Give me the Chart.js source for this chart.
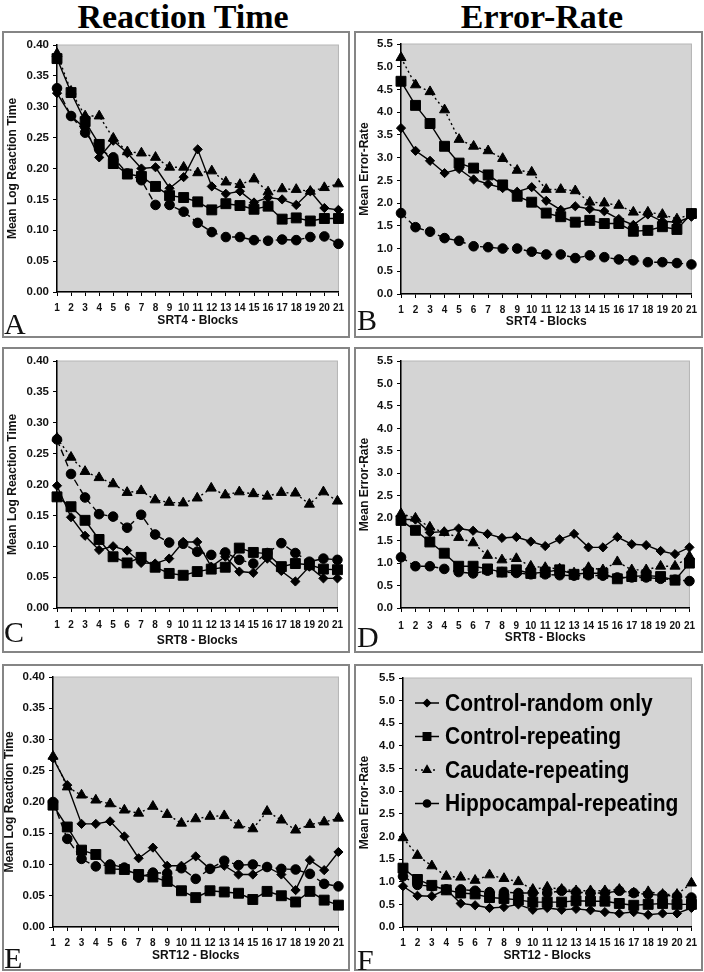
<!DOCTYPE html>
<html lang="en">
<head>
<meta charset="UTF-8">
<title>SRT Reaction Time and Error-Rate</title>
<script src="https://cdn.jsdelivr.net/npm/chart.js"></script>
<style>
  body { margin: 0; width: 704px; height: 972px; position: relative; overflow: hidden; background: #fff; }
  .head { position: absolute; top: -2px; width: 300px; text-align: center; line-height: 34px;
          font: bold 34px "Liberation Serif", "Times New Roman", serif; color: #000; }
  .frame { position: absolute; box-sizing: border-box; border: 2px solid #858585; pointer-events: none; }
  .letter { position: absolute; line-height: 30px; font: 30px "Liberation Serif", "Times New Roman", serif; color: #111; }
  canvas { position: absolute; }
</style>
</head>
<body>
<div class="head" style="left:33px">Reaction Time</div>
<div class="head" style="left:392px">Error-Rate</div>

<script>
// x categories (blocks)
const blocks = ['1','2','3','4','5','6','7','8','9','10','11','12','13','14','15','16','17','18','19','20','21'];
const seriesNames = ['Control-random only', 'Control-repeating', 'Caudate-repeating', 'Hippocampal-repeating'];

// A - SRT4 reaction time
const rtA_random  = [0.322,0.285,0.265,0.218,0.245,0.225,0.200,0.202,0.168,0.186,0.231,0.171,0.159,0.163,0.145,0.153,0.150,0.141,0.163,0.136,0.133];
const rtA_ctrlRep = [0.378,0.323,0.276,0.239,0.208,0.191,0.187,0.171,0.156,0.153,0.146,0.133,0.143,0.140,0.134,0.139,0.118,0.120,0.115,0.119,0.119];
const rtA_caudate = [0.386,0.325,0.285,0.285,0.249,0.227,0.225,0.218,0.202,0.202,0.193,0.196,0.178,0.174,0.183,0.162,0.167,0.166,0.163,0.169,0.175];
const rtA_hippo   = [0.330,0.285,0.258,0.231,0.218,0.192,0.181,0.141,0.141,0.130,0.112,0.097,0.089,0.089,0.084,0.083,0.085,0.084,0.089,0.090,0.078];

// B - SRT4 error rate
const erB_random  = [3.65,3.15,2.93,2.66,2.75,2.52,2.42,2.33,2.25,2.35,2.05,1.85,1.93,1.87,1.82,1.65,1.52,1.75,1.60,1.58,1.70];
const erB_ctrlRep = [4.68,4.15,3.75,3.25,2.88,2.77,2.62,2.40,2.15,2.02,1.78,1.70,1.58,1.62,1.55,1.55,1.38,1.40,1.48,1.42,1.77];
const erB_caudate = [5.20,4.60,4.45,4.05,3.40,3.25,3.15,2.98,2.72,2.68,2.30,2.30,2.27,2.02,2.00,1.95,1.80,1.80,1.75,1.65,1.76];
const erB_hippo   = [1.78,1.47,1.37,1.23,1.17,1.05,1.03,1.00,1.00,0.93,0.87,0.87,0.79,0.85,0.81,0.76,0.74,0.70,0.70,0.68,0.65];

// C - SRT8 reaction time
const rtC_random  = [0.198,0.147,0.117,0.094,0.100,0.093,0.073,0.072,0.080,0.107,0.107,0.067,0.083,0.059,0.057,0.080,0.060,0.043,0.067,0.048,0.048];
const rtC_ctrlRep = [0.180,0.164,0.142,0.111,0.083,0.073,0.082,0.066,0.056,0.053,0.059,0.063,0.066,0.097,0.090,0.088,0.067,0.072,0.070,0.063,0.062];
const rtC_caudate = [0.275,0.244,0.221,0.211,0.201,0.187,0.190,0.175,0.171,0.170,0.178,0.194,0.183,0.188,0.185,0.181,0.187,0.186,0.168,0.188,0.173];
const rtC_hippo   = [0.273,0.217,0.179,0.152,0.148,0.130,0.151,0.119,0.106,0.104,0.091,0.086,0.090,0.078,0.072,0.089,0.105,0.089,0.075,0.080,0.078];

// D - SRT8 error rate
const erD_random  = [1.97,1.97,1.68,1.70,1.77,1.72,1.65,1.56,1.58,1.48,1.38,1.53,1.65,1.35,1.35,1.58,1.42,1.40,1.27,1.20,1.35];
const erD_ctrlRep = [1.95,1.73,1.47,1.22,0.93,0.93,0.87,0.80,0.85,0.77,0.80,0.85,0.75,0.78,0.77,0.65,0.70,0.72,0.70,0.62,1.00];
const erD_caudate = [2.10,2.00,1.80,1.68,1.57,1.45,1.17,1.07,1.10,0.93,0.90,0.87,0.78,0.90,0.85,1.03,0.85,0.85,0.93,0.93,1.15];
const erD_hippo   = [1.13,0.93,0.93,0.87,0.80,0.77,0.83,0.80,0.78,0.75,0.75,0.73,0.72,0.73,0.72,0.68,0.68,0.68,0.65,0.63,0.60];

// E - SRT12 reaction time
const rtE_random  = [0.270,0.227,0.165,0.165,0.169,0.145,0.110,0.127,0.098,0.098,0.113,0.093,0.098,0.084,0.084,0.096,0.084,0.059,0.107,0.091,0.120];
const rtE_ctrlRep = [0.195,0.160,0.123,0.116,0.093,0.092,0.084,0.080,0.073,0.058,0.047,0.058,0.056,0.054,0.044,0.057,0.050,0.040,0.057,0.043,0.035];
const rtE_caudate = [0.273,0.224,0.211,0.203,0.197,0.187,0.182,0.193,0.180,0.166,0.173,0.177,0.178,0.163,0.157,0.185,0.171,0.155,0.164,0.168,0.174];
const rtE_hippo   = [0.200,0.141,0.109,0.097,0.100,0.095,0.079,0.087,0.086,0.094,0.077,0.093,0.106,0.099,0.100,0.096,0.093,0.092,0.085,0.069,0.065];

// F - SRT12 error rate
const erF_random  = [0.90,0.69,0.68,0.83,0.52,0.48,0.42,0.44,0.50,0.38,0.42,0.38,0.40,0.37,0.33,0.30,0.33,0.27,0.30,0.30,0.42];
const erF_ctrlRep = [1.30,1.05,0.92,0.82,0.75,0.73,0.65,0.63,0.60,0.55,0.55,0.55,0.58,0.57,0.57,0.52,0.48,0.50,0.52,0.50,0.50];
const erF_caudate = [1.97,1.58,1.35,1.12,1.10,1.03,1.15,1.07,1.00,0.83,0.88,0.83,0.80,0.80,0.80,0.83,0.75,0.78,0.72,0.72,0.97];
const erF_hippo   = [1.12,0.93,0.90,0.83,0.83,0.80,0.77,0.77,0.75,0.75,0.75,0.80,0.77,0.75,0.75,0.80,0.75,0.72,0.70,0.68,0.65];

// marker / line look per series
const looks = [
  { pointStyle: 'rectRot',  pointRadius: 4.6, dash: [],     legendDash: [] },
  { pointStyle: 'rect',     pointRadius: 7,   dash: [],     legendDash: [] },
  { pointStyle: 'triangle', pointRadius: 5.8, dash: [2, 3], legendDash: [2, 4] },
  { pointStyle: 'circle',   pointRadius: 4.8, dash: [7, 4], legendDash: [] }
];

const SANS = '"Liberation Sans", Arial, sans-serif';

const plotBg = {
  id: 'plotBg',
  beforeDraw(chart) {
    const { ctx, chartArea: a } = chart;
    ctx.save();
    ctx.fillStyle = '#d4d4d4';
    ctx.fillRect(a.left, a.top, a.right - a.left, a.bottom - a.top);
    ctx.strokeStyle = '#b5b5b5';
    ctx.lineWidth = 1;
    ctx.strokeRect(a.left, a.top, a.right - a.left, a.bottom - a.top);
    ctx.restore();
  }
};

// legend drawn inside panel F
const legendInside = {
  id: 'legendInside',
  afterDatasetsDraw(chart, args, opts) {
    if (!opts.show) return;
    const ctx = chart.ctx;
    ctx.save();
    chart.data.datasets.forEach((ds, i) => {
      const y = opts.y0 + i * opts.step;
      ctx.strokeStyle = '#000';
      ctx.lineWidth = 1.5;
      ctx.setLineDash(looks[i].legendDash);
      ctx.beginPath();
      ctx.moveTo(opts.x0, y);
      ctx.lineTo(opts.x0 + 24, y);
      ctx.stroke();
      ctx.setLineDash([]);
      ctx.fillStyle = '#000';
      Chart.helpers.drawPoint(ctx, { pointStyle: looks[i].pointStyle, radius: looks[i].pointRadius * 0.75, borderWidth: 1 }, opts.x0 + 12, y);
      ctx.fill();
      // the scanned legend text is a little taller than wide
      ctx.save();
      ctx.translate(opts.x0 + 30, y + 1);
      ctx.scale(1, 1.18);
      ctx.font = 'bold 21px ' + SANS;
      ctx.textBaseline = 'middle';
      ctx.textAlign = 'left';
      ctx.fillText(seriesNames[i], 0, 0);
      ctx.restore();
    });
    ctx.restore();
  }
};

const panels = [
  { letter: 'A', frame: [2, 31, 348, 307], area: [57, 45, 343, 292], yTitleX: 13, xLabelY: 308, xTitleY: 321,
    ymax: 0.40, step: 0.05, dec: 2, yTitle: 'Mean Log Reaction Time', xTitle: 'SRT4 - Blocks',
    letterPos: [4, 307], series: [rtA_random, rtA_ctrlRep, rtA_caudate, rtA_hippo] },
  { letter: 'B', frame: [354, 31, 349, 307], area: [401, 44, 693, 294], yTitleX: 365, xLabelY: 310, xTitleY: 322,
    ymax: 5.5, step: 0.5, dec: 1, yTitle: 'Mean Error-Rate', xTitle: 'SRT4 - Blocks',
    letterPos: [357, 303], series: [erB_random, erB_ctrlRep, erB_caudate, erB_hippo] },
  { letter: 'C', frame: [2, 347, 348, 306], area: [57, 361, 342, 608], yTitleX: 13, xLabelY: 625, xTitleY: 641,
    ymax: 0.40, step: 0.05, dec: 2, yTitle: 'Mean Log Reaction Time', xTitle: 'SRT8 - Blocks',
    letterPos: [4, 615], series: [rtC_random, rtC_ctrlRep, rtC_caudate, rtC_hippo] },
  { letter: 'D', frame: [354, 347, 349, 306], area: [401, 361, 691, 608], yTitleX: 365, xLabelY: 626, xTitleY: 638,
    ymax: 5.5, step: 0.5, dec: 1, yTitle: 'Mean Error-Rate', xTitle: 'SRT8 - Blocks',
    letterPos: [357, 620], series: [erD_random, erD_ctrlRep, erD_caudate, erD_hippo] },
  { letter: 'E', frame: [2, 664, 348, 307], area: [53, 677, 343, 927], yTitleX: 10, xLabelY: 943, xTitleY: 956,
    ymax: 0.40, step: 0.05, dec: 2, yTitle: 'Mean Log Reaction Time', xTitle: 'SRT12 - Blocks',
    letterPos: [4, 941], series: [rtE_random, rtE_ctrlRep, rtE_caudate, rtE_hippo] },
  { letter: 'F', frame: [354, 664, 349, 307], area: [403, 678, 692, 927], yTitleX: 365, xLabelY: 943, xTitleY: 956,
    ymax: 5.5, step: 0.5, dec: 1, yTitle: 'Mean Error-Rate', xTitle: 'SRT12 - Blocks',
    letterPos: [357, 943], series: [erF_random, erF_ctrlRep, erF_caudate, erF_hippo], legend: true }
];

function buildPanel(p) {
  const [fx, fy, fw, fh] = p.frame;
  const [L, T, R, B] = p.area;

  const cv = document.createElement('canvas');
  cv.width = fw;
  cv.height = fh;
  cv.style.left = fx + 'px';
  cv.style.top = fy + 'px';
  document.body.appendChild(cv);

  const frame = document.createElement('div');
  frame.className = 'frame';
  frame.style.cssText = `left:${fx}px;top:${fy}px;width:${fw}px;height:${fh}px`;
  document.body.appendChild(frame);

  const letter = document.createElement('div');
  letter.className = 'letter';
  letter.textContent = p.letter;
  letter.style.left = p.letterPos[0] + 'px';
  letter.style.top = p.letterPos[1] + 'px';
  document.body.appendChild(letter);

  const yScaleLeft = p.yTitleX - 7.2;
  const xScaleBottom = p.xTitleY + 7.2;

  new Chart(cv, {
    type: 'line',
    data: {
      labels: blocks,
      datasets: p.series.map((vals, i) => ({
        label: seriesNames[i],
        data: vals,
        borderColor: '#000',
        backgroundColor: '#000',
        borderWidth: 1.4,
        borderDash: looks[i].dash,
        pointStyle: looks[i].pointStyle,
        pointRadius: looks[i].pointRadius,
        pointBackgroundColor: '#000',
        pointBorderColor: '#000',
        pointBorderWidth: 1,
        tension: 0,
        fill: false,
        clip: false
      }))
    },
    options: {
      responsive: false,
      animation: false,
      events: [],
      layout: {
        padding: { left: yScaleLeft - fx, top: T - fy, right: fx + fw - R, bottom: fy + fh - xScaleBottom }
      },
      plugins: {
        legend: { display: false },
        tooltip: { enabled: false },
        legendInside: { show: !!p.legend, x0: 415 - fx, y0: 703 - fy, step: 33.5 }
      },
      scales: {
        x: {
          offset: false,
          afterFit: s => { s.height = xScaleBottom - B; },
          grid: { drawOnChartArea: false, drawTicks: true, tickLength: 4, color: '#000', lineWidth: 1 },
          border: { display: true, color: '#000', width: 1.5 },
          ticks: {
            autoSkip: false, maxRotation: 0, minRotation: 0,
            padding: p.xLabelY - B - 10,
            color: '#111',
            font: { family: SANS, size: 10, weight: 'bold' }
          },
          title: {
            display: true, text: p.xTitle, color: '#111', padding: 0,
            font: { family: SANS, size: 12, weight: 'bold' }
          }
        },
        y: {
          min: 0, max: p.ymax,
          afterFit: s => { s.width = L - yScaleLeft; },
          grid: { drawOnChartArea: false, drawTicks: true, tickLength: 4, color: '#000', lineWidth: 1 },
          border: { display: true, color: '#000', width: 1.5 },
          ticks: {
            stepSize: p.step, padding: 4, color: '#111',
            font: { family: SANS, size: 11.5, weight: 'bold' },
            callback: v => Number(v).toFixed(p.dec)
          },
          title: {
            display: true, text: p.yTitle, color: '#111', padding: 0,
            font: { family: SANS, size: 12, weight: 'bold' }
          }
        }
      }
    },
    plugins: [plotBg, legendInside]
  });
}

panels.forEach(buildPanel);
</script>
</body>
</html>
